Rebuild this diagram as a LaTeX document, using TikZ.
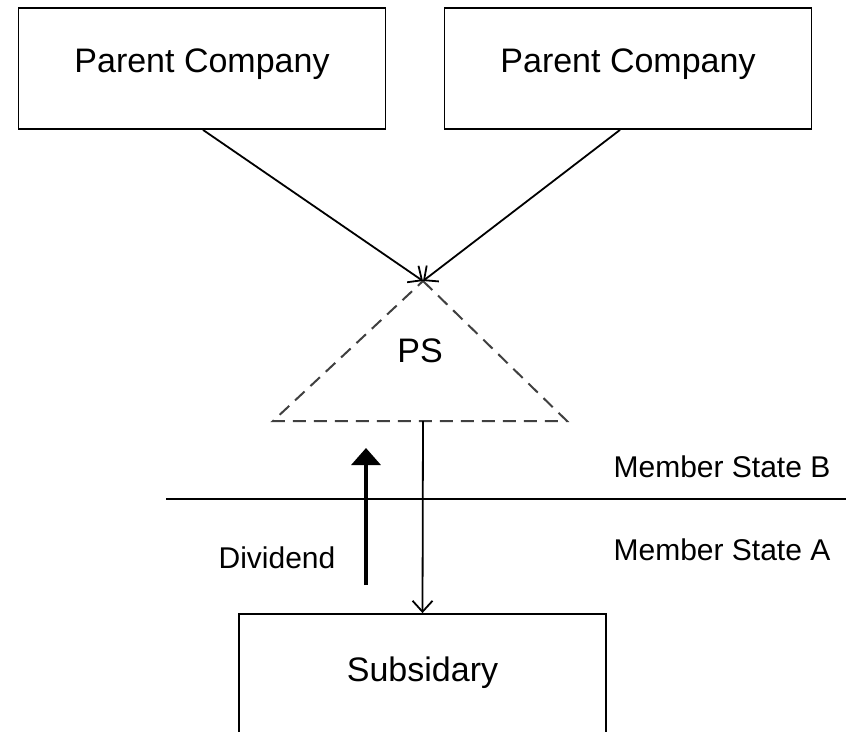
\documentclass[tikz,border=0pt]{standalone}
\usepackage{fontspec}
\setmainfont{Liberation Sans}
\usetikzlibrary{arrows.meta}

\begin{document}
\begin{tikzpicture}[x=1pt, y=-1pt, line width=1.8pt,
    cbox/.style={draw, inner sep=0pt, minimum width=367, font=\fontsize{34}{40}\selectfont},
    lbl/.style={anchor=base, inner sep=0pt, font=\fontsize{30}{36}\selectfont},
    flow/.style={-{Straight Barb[length=11pt,width=20pt]}}]
    \clip (0,0) rectangle (846,731);
    \fill[white] (0,0) rectangle (846,731);
    % parent companies
    \node[cbox, minimum height=121, text height=10pt, text depth=3pt] (P1) at (202,68.5) {Parent Company};
    \node[cbox, minimum height=121, text height=10pt, text depth=3pt] (P2) at (628,68.5) {Parent Company};
    % PS triangle
    \coordinate (T) at (423,281);
    \coordinate (TL) at (273,421);
    \coordinate (TR) at (567,421);
    \coordinate (TB) at (423,421);
    \draw[dash pattern=on 13pt off 8pt, line width=2pt, draw=black!75] (T) -- (TR) -- (TL) -- cycle;
    \node[anchor=base, inner sep=0pt, font=\fontsize{34}{40}\selectfont] (PS) at (420,362) {PS};
    \draw[flow] ([xshift=1pt]P1.south) -- (T);
    \draw[flow] ([xshift=-8pt]P2.south) -- (T);
    % subsidiary
    \node[cbox, minimum height=130, text height=8pt, text depth=4pt] (S) at (422.5,679) {Subsidary};
    \draw[flow] (TB) -- (S.north);
    % border
    \coordinate (L1) at (166,499);
    \coordinate (L2) at (846,499);
    \draw (L1) -- (L2);
    \node[lbl] (MB) at (722,477) {Member State B};
    \node[lbl] (MA) at (722,560) {Member State A};
    % dividend
    \coordinate (D1) at (366,585);
    \coordinate (D2) at (366,448);
    \draw[line width=3.5pt, -{Triangle[length=17pt,width=29pt]}] (D1) -- (D2);
    \node[lbl] (Div) at (277,568) {Dividend};
\end{tikzpicture}
\end{document}
